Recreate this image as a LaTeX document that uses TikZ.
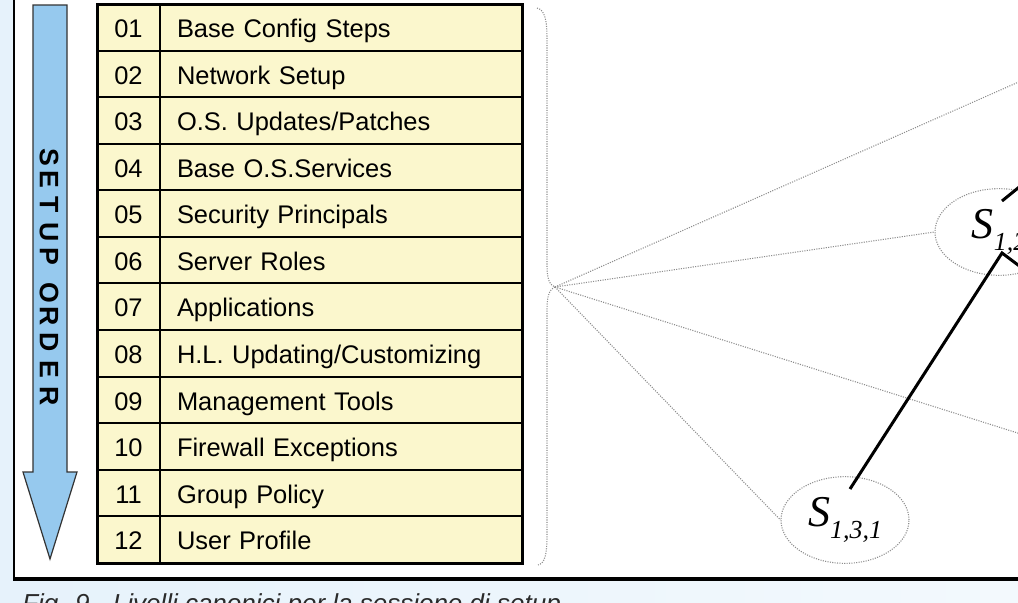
\documentclass[tikz,border=0pt]{standalone}
\usepackage{fontspec}
\setmainfont{Liberation Sans}
\newfontfamily\serifit{Liberation Serif}
\usetikzlibrary{shapes.geometric}
\definecolor{bgblue}{HTML}{E6F2FB}
\definecolor{bgblue2}{HTML}{F3F9FD}
\definecolor{cellyellow}{HTML}{FBF7CD}
\definecolor{arrowblue}{HTML}{96C9EE}
\definecolor{dotgray}{HTML}{8C8C8C}
\definecolor{capgray}{HTML}{2A2A2A}
\newcommand\SLabel[1]{{\serifit\itshape\fontsize{33}{34}\selectfont S}\raisebox{-9pt}{\serifit\itshape\fontsize{19.5}{20}\selectfont #1}}
\begin{document}
\begin{tikzpicture}[x=0.75pt,y=-0.75pt,
  numcell/.style={draw=black,line width=1.5pt,fill=cellyellow,minimum width=47.25pt,minimum height=34.94pt,inner sep=0pt,text height=15.3pt,text depth=0pt,font=\fontsize{19.1}{22}\selectfont},
  txtcell/.style={draw=black,line width=1.5pt,fill=cellyellow,minimum width=271.5pt,minimum height=34.94pt,inner ysep=0pt,inner xsep=12.75pt,text width=246pt,align=left,text height=15.3pt,text depth=0pt,font=\fontsize{19.1}{22}\selectfont},
  vletter/.style={rotate=-90,inner sep=0pt,font=\bfseries\fontsize{20}{22}\selectfont},
  sellipse/.style={ellipse,draw=dotgray,densely dotted,line width=0.8pt,minimum width=96pt,minimum height=65pt,inner sep=0pt},
  dotline/.style={draw=dotgray,densely dotted,line width=0.8pt},
  edge/.style={draw=black,line width=2.25pt,line join=miter}]
\useasboundingbox (0,0) rectangle (1018,603);
\clip (0,0) rectangle (1018,603);
% background and frame
\shade[left color=bgblue,right color=bgblue2] (0,0) rectangle (1018,603);
\fill[white] (14,-20) rectangle (1040,579);
\draw[line width=1.5pt] (14,-20) -- (14,579);
\draw[line width=3pt] (13,579) -- (1040,579);
% setup order arrow
\draw[fill=arrowblue,draw=black!80,line width=0.9pt] (33,5) -- (67,5) -- (67,472) -- (77,472) -- (50,559) -- (23,472) -- (33,472) -- cycle;
\foreach \c/\yy [count=\k] in {S/157,E/179.5,T/205,U/232.5,P/256.5,O/292.5,R/316,D/342.5,E/369,R/396.5}
  \node[vletter] (L\k) at (49,\yy) {\c};
% table
\foreach \n/\t [count=\i] in {01/Base Config Steps,02/Network Setup,03/O.S. Updates\slash Patches,04/Base O.S.Services,05/Security Principals,06/Server Roles,07/Applications,08/H.L. Updating\slash Customizing,09/Management Tools,10/Firewall Exceptions,11/Group Policy,12/User Profile}{
  \node[numcell] (n\i) at (128.5,{4+(\i-0.5)*46.583}) {\n};
  \node[txtcell] (t\i) at (341,{4+(\i-0.5)*46.583}) {\t};
}
\draw[line width=2.25pt] (97,4) rectangle (522,563);
% brace
\draw[dotline] (537,8) .. controls (545,10) and (547,20) .. (547,40) -- (547,265) .. controls (547,280) and (550,285) .. (555,287) .. controls (550,289) and (547,294) .. (547,310) -- (547,535) .. controls (547,555) and (545,563) .. (538,565);
\coordinate (tip) at (555,287);
% nodes
\node[sellipse] (S12) at (999,232) {\SLabel{1,2}};
\node[sellipse] (S131) at (845,520) {\SLabel{1,3,1}};
\coordinate (off1) at (1100,46);
\coordinate (off3) at (1100,459);
\draw[dotline] (tip) -- (off1);
\draw[dotline] (tip) -- (S12.west);
\draw[dotline] (tip) -- (off3);
\draw[dotline] (tip) -- (S131.west);
% solid tree edges
\coordinate (S12low) at (1002,253);
\coordinate (S12high) at (1002,201);
\coordinate (S131top) at (850,489);
\coordinate (offA) at (1050,289);
\coordinate (offB) at (1050,162);
\draw[edge] (S131top) -- (S12low) -- (offA);
\draw[edge] (S12high) -- (offB);
% caption
\node[anchor=base west,inner sep=0pt,text=capgray,font=\itshape\fontsize{19.5}{20}\selectfont] (cap) at (22,612) {Fig. 9 - Livelli canonici per la sessione di setup};
\end{tikzpicture}
\end{document}
